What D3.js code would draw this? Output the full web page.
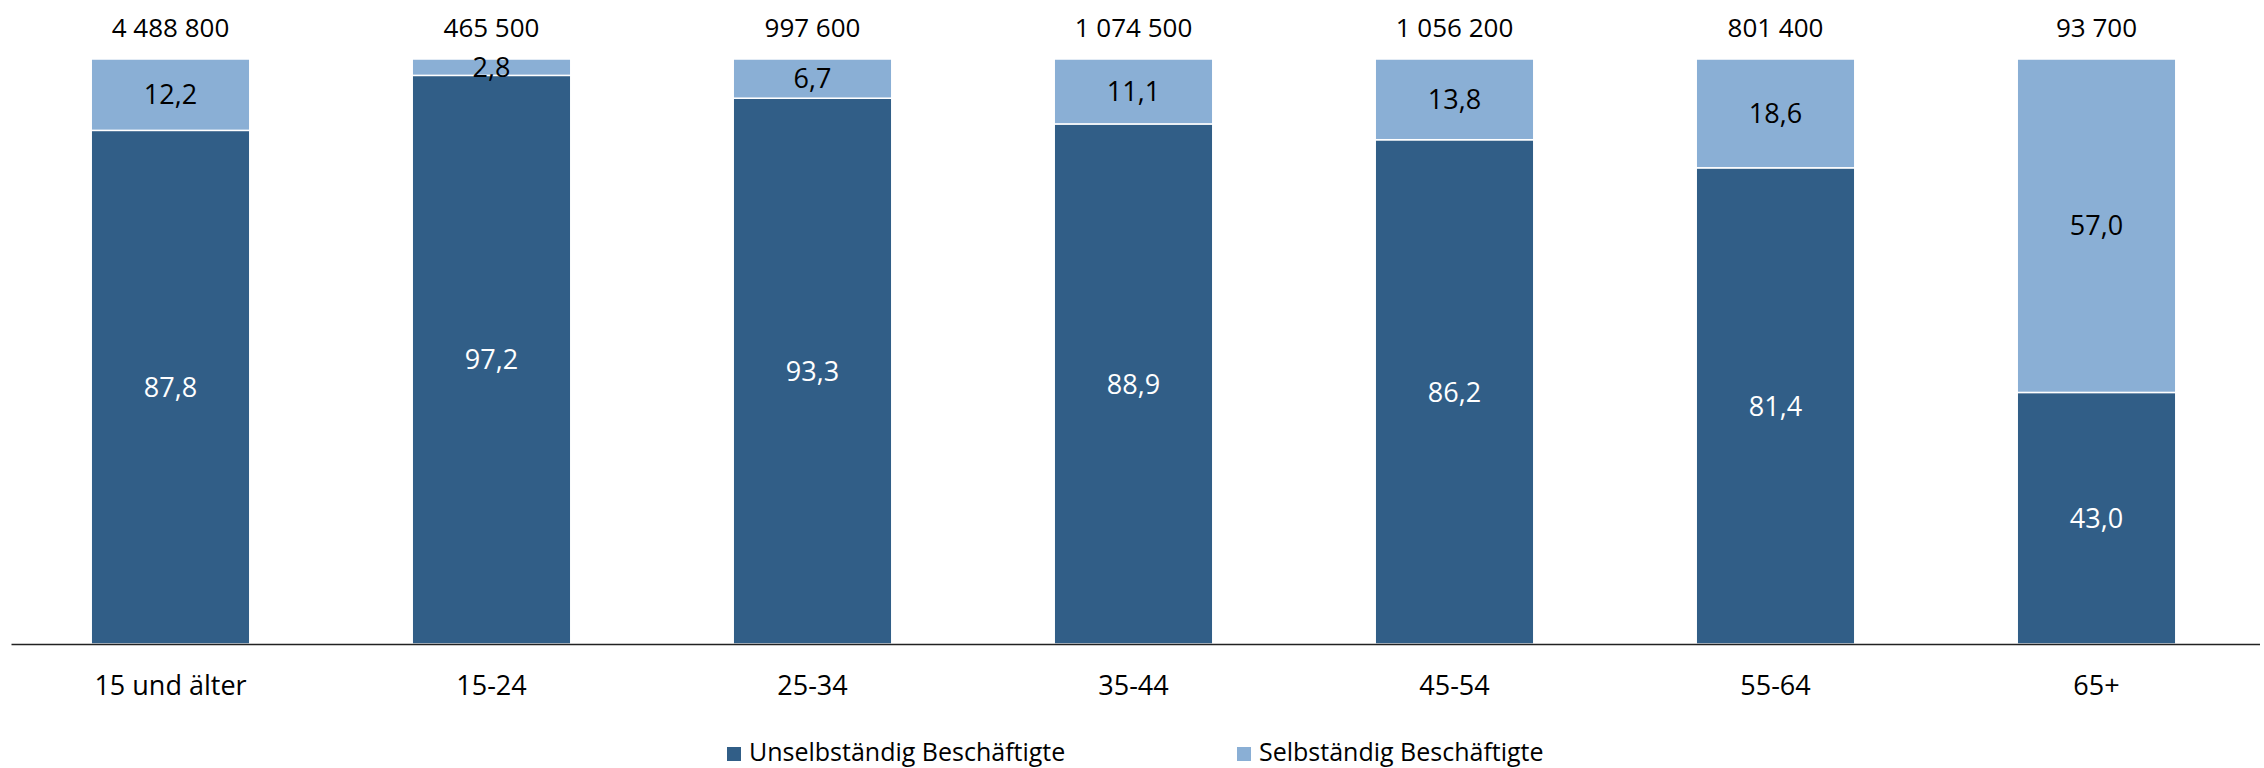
<!DOCTYPE html>
<html>
<head>
<meta charset="utf-8">
<script src="https://cdn.jsdelivr.net/npm/d3@7"></script>
<style>
  html, body { margin: 0; padding: 0; background: #fff; }
  svg { display: block; font-family: "Open Sans", sans-serif; }
</style>
</head>
<body>
<svg id="chart" width="2264" height="768"></svg>
<script>
const categories = ["15 und älter", "15-24", "25-34", "35-44", "45-54", "55-64", "65+"];
const unselbstaendig = [87.8, 97.2, 93.3, 88.9, 86.2, 81.4, 43.0];
const selbstaendig = [12.2, 2.8, 6.7, 11.1, 13.8, 18.6, 57.0];
const totals = ["4 488 800", "465 500", "997 600", "1 074 500", "1 056 200", "801 400", "93 700"];
const seriesNames = ["Unselbständig Beschäftigte", "Selbständig Beschäftigte"];
const seriesColors = ["#315E87", "#8AAFD5"];
const labelColors = ["#ffffff", "#000000"];

const svg = d3.select("#chart");
const fmt = v => d3.format(".1f")(v).replace(".", ",");

const x = d3.scaleBand()
  .domain(categories)
  .range([10, 2257])
  .paddingInner(0.506)
  .paddingOuter(0.253);

const y = d3.scaleLinear().domain([0, 100]).range([644, 59]);

const rows = categories.map((c, i) => ({ cat: c, s0: unselbstaendig[i], s1: selbstaendig[i] }));
const stack = d3.stack().keys(["s0", "s1"])(rows);

const g = svg.append("g");
stack.forEach((layer, li) => {
  g.selectAll(null).data(layer).enter().append("rect")
    .attr("x", d => x(d.data.cat))
    .attr("width", x.bandwidth())
    .attr("y", d => y(d[1]))
    .attr("height", d => y(d[0]) - y(d[1]))
    .attr("fill", seriesColors[li])
    .attr("stroke", "#ffffff")
    .attr("stroke-width", 1.5);

  g.selectAll(null).data(layer).enter().append("text")
    .attr("x", d => x(d.data.cat) + x.bandwidth() / 2)
    .attr("y", d => (y(d[0]) + y(d[1])) / 2)
    .attr("dy", "0.36em")
    .attr("text-anchor", "middle")
    .attr("font-size", 27)
    .attr("fill", labelColors[li])
    .text(d => fmt(d[1] - d[0]));
});

// totals on top
g.selectAll(null).data(categories).enter().append("text")
  .attr("x", d => x(d) + x.bandwidth() / 2)
  .attr("y", 37)
  .attr("text-anchor", "middle")
  .attr("font-size", 26)
  .attr("fill", "#000")
  .text((d, i) => totals[i]);

// x axis
const xAxis = svg.append("g")
  .attr("transform", `translate(0,${y(0)})`)
  .call(d3.axisBottom(x).tickSize(0).tickPadding(0));
xAxis.select(".domain").attr("stroke", "#222").attr("stroke-width", 1.5)
  .attr("d", "M11.5,0.5H2260");
xAxis.selectAll(".tick text")
  .attr("font-family", "Open Sans, sans-serif")
  .attr("font-size", 27)
  .attr("fill", "#000")
  .attr("dy", null)
  .attr("y", 51);

// legend
const legendX = [727, 1237];
const leg = svg.append("g");
seriesNames.forEach((name, i) => {
  leg.append("rect")
    .attr("x", legendX[i]).attr("y", 747)
    .attr("width", 14).attr("height", 14)
    .attr("fill", seriesColors[i]);
  leg.append("text")
    .attr("x", legendX[i] + 22).attr("y", 761)
    .attr("font-size", 25)
    .attr("fill", "#000")
    .text(name);
});
</script>
</body>
</html>
